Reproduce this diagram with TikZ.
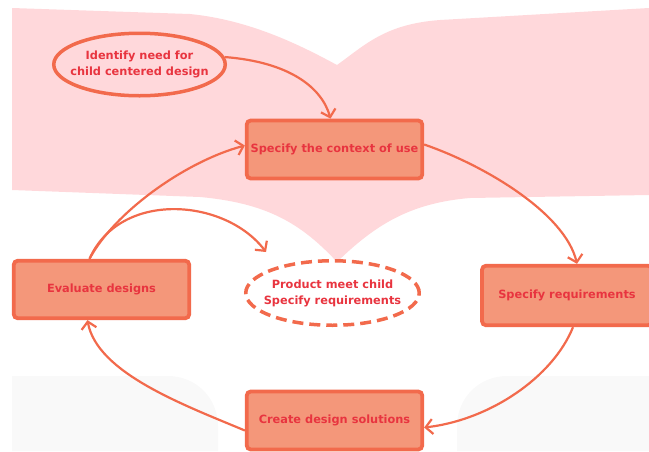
\documentclass[tikz,border=0pt]{standalone}
\usepackage{fontspec}
\setmainfont{DejaVu Sans}
\usetikzlibrary{arrows.meta,shapes.geometric}

\definecolor{bgpink}{HTML}{FFD8DB}
\definecolor{bggray}{HTML}{F9F9F9}
\definecolor{boxfill}{HTML}{F4977A}
\definecolor{boxline}{HTML}{F26A4C}
\definecolor{txtred}{HTML}{E8343F}

\begin{document}
\begin{tikzpicture}[x=1pt, y=-1pt,
    stage/.style={draw=boxline, fill=boxfill, line width=3.8pt, rounded corners=4pt,
        minimum width=175.5pt, minimum height=58pt, inner sep=0pt, text=txtred,
        font=\bfseries\fontsize{11.35}{16}\selectfont},
    goal/.style={ellipse, draw=boxline, line width=3.5pt, inner xsep=-25pt, inner ysep=0pt,
        align=center, text=txtred, font=\bfseries\fontsize{11.35}{16}\selectfont},
    flow/.style={draw=boxline, line width=2.2pt, -{Straight Barb[length=7pt,width=15pt]}}]
    \useasboundingbox (0,0) rectangle (649,451);

    % Background
    \fill[bgpink] (12,8) -- (190,14) .. controls (250,20) and (300,45) .. (337,65)
        .. controls (365,45) and (385,24) .. (440,20) -- (649,8) -- (649,195)
        -- (470,198) .. controls (410,203) and (375,225) .. (337,262)
        .. controls (300,222) and (265,203) .. (200,197) -- (12,190) -- cycle;
    \fill[bggray] (12,451) -- (12,376) -- (168,376) .. controls (196,376) and (218,398) .. (218,426) -- (218,451) -- cycle;
    \fill[bggray] (649,376) -- (507,376) .. controls (479,376) and (457,398) .. (457,426) -- (457,451) -- (649,451) -- cycle;

    % Steps of the cycle
    \node[stage] (context) at (334.5,149.5) {Specify the context of use};
    \node[stage, minimum width=170pt, minimum height=59.5pt] (requirements) at (567,295.5) {Specify requirements};
    \node[stage] (create) at (334.5,420.5) {Create design solutions};
    \node[stage, minimum height=57.5pt] (evaluate) at (101.5,289.5) {Evaluate designs};

    % Start and goal
    \node[goal, minimum width=171.5pt, minimum height=62.5pt] (need) at (139.5,64.5) {Identify need for\\child centered design};
    \node[goal, dash pattern=on 11pt off 6pt, minimum width=173.5pt, minimum height=64.5pt] (product) at (332.5,293) {Product meet child\\Specify requirements};
    \coordinate (prodtip) at (266,252);

    % Arrows
    \draw[flow] (need.5) .. controls (290,62) and (322,88) .. ([xshift=-4pt]context.north);
    \draw[flow] ([yshift=5pt]context.east) .. controls (484,165) and (565,213) .. ([xshift=10pt]requirements.north);
    \draw[flow] ([xshift=6pt]requirements.south) .. controls (553,377) and (490,420) .. ([yshift=-7pt]create.east);
    \draw[flow] ([yshift=-10pt]create.west) .. controls (184,405) and (97,373) .. ([xshift=-14pt]evaluate.south);
    \draw[flow] ([xshift=-12pt]evaluate.north) .. controls (114,213) and (184,162) .. ([yshift=4pt]context.west);
    \draw[flow] ([xshift=-12pt]evaluate.north) .. controls (120,190) and (225,198) .. (prodtip);
\end{tikzpicture}
\end{document}
